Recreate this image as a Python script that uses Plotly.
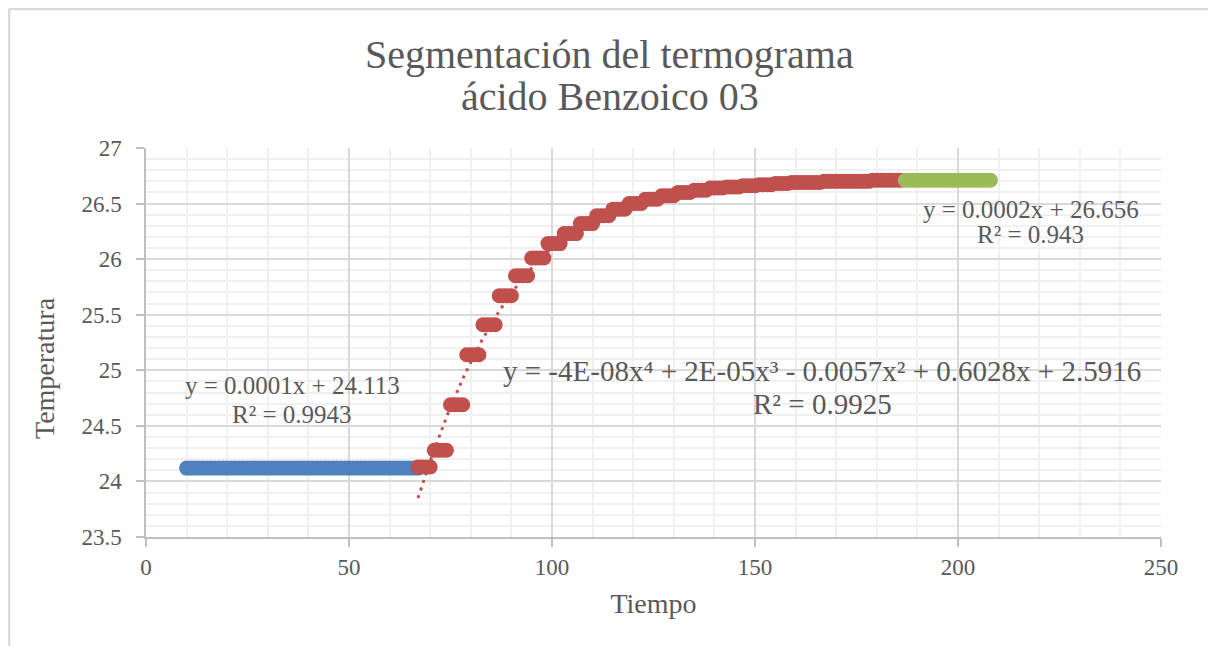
import numpy as np
import plotly.graph_objects as go

# ---- data ----
# blue segment: pre-period, sampled every 1 s
blue_t_start, blue_t_end = 10, 67
blue_temp = 24.12

# red segment: stepped temperature readings (step start time, temperature)
red_step_start = [67, 71, 75, 79, 83, 87, 91, 95, 99, 103, 107, 111, 115, 119, 123,
                  127, 131, 135, 139, 143, 147, 151, 155, 159, 163, 167, 171, 175, 179, 183]
red_step_temp = [24.13, 24.28, 24.69, 25.14, 25.41, 25.67, 25.85, 26.01, 26.14, 26.23,
                 26.32, 26.39, 26.45, 26.50, 26.54, 26.57, 26.60, 26.62, 26.64, 26.65,
                 26.66, 26.67, 26.68, 26.69, 26.69, 26.70, 26.70, 26.70, 26.71, 26.71]
red_t_end = 187

# green segment: post-period
green_t_start, green_t_end = 187, 208
green_temp = 26.71

title_lines = ["Segmentación del termograma", "ácido Benzoico 03"]
x_title = "Tiempo"
y_title = "Temperatura"
eq_blue = ["y = 0.0001x + 24.113", "R² = 0.9943"]
eq_red = ["y = -4E-08x⁴ + 2E-05x³ - 0.0057x² + 0.6028x + 2.5916", "R² = 0.9925"]
eq_green = ["y = 0.0002x + 26.656", "R² = 0.943"]

# ---- build series ----
bx = list(range(blue_t_start, blue_t_end + 1))
by = [blue_temp] * len(bx)

rx, ry = [], []
for i, s in enumerate(red_step_start):
    e = red_step_start[i + 1] if i + 1 < len(red_step_start) else red_t_end
    for t in range(s, e):
        rx.append(t)
        ry.append(red_step_temp[i])

gx = list(range(green_t_start, green_t_end + 1))
gy = [green_temp] * len(gx)

BLUE, RED, GREEN = "#4F81BD", "#C0504D", "#9BBB59"
TXT = "#595959"
FONT = "Liberation Serif"

fig = go.Figure()

# trendlines (computed from the series)
def trend(xs, ys, deg, color):
    c = np.polyfit(xs, ys, deg)
    xt = np.linspace(min(xs), max(xs), 300)
    fig.add_trace(go.Scatter(x=xt, y=np.polyval(c, xt), mode="lines",
                             line=dict(color=color, width=3, dash="3px,5px"),
                             hoverinfo="skip", showlegend=False))

trend(bx, by, 1, BLUE)
trend(rx, ry, 4, RED)
trend(gx, gy, 1, GREEN)

for xs, ys, col in [(bx, by, BLUE), (rx, ry, RED), (gx, gy, GREEN)]:
    fig.add_trace(go.Scatter(x=xs, y=ys, mode="markers",
                             marker=dict(size=15, color=col, line=dict(width=0)),
                             showlegend=False))

axis_common = dict(
    showline=True, linecolor="#BFBFBF", linewidth=1.5,
    ticks="outside", ticklen=8, tickcolor="#BFBFBF", tickwidth=1.5,
    gridcolor="#D9D9D9", gridwidth=1.5,
    tickfont=dict(family=FONT, size=23, color=TXT),
    zeroline=False,
)

fig.update_xaxes(range=[0, 250], dtick=50, tick0=0, ticklabelstandoff=1,
                 minor=dict(dtick=10, showgrid=True, gridcolor="#F0F0F0", gridwidth=1.5, ticks=""),
                 title=dict(text=x_title, font=dict(family=FONT, size=28, color=TXT), standoff=14),
                 **axis_common)
fig.update_yaxes(range=[23.5, 27], dtick=0.5, tick0=23.5, ticklabelstandoff=10,
                 minor=dict(dtick=0.1, showgrid=True, gridcolor="#F0F0F0", gridwidth=1.5, ticks=""),
                 **axis_common)

# plot area in page pixels: x 146..1161, y 148..537
def px(xp):
    return (xp - 146) / 1015
def py(yp):
    return (537 - yp) / 389

# y axis title
fig.add_annotation(xref="paper", yref="paper", x=px(44), y=py(368), text=y_title,
                   textangle=-90, showarrow=False, xanchor="center", yanchor="middle",
                   font=dict(family=FONT, size=28, color=TXT))

# trendline labels
def eq(lines, x, ys, size):
    for t, y in zip(lines, ys):
        fig.add_annotation(x=x, y=y, text=t, showarrow=False, xanchor="center", yanchor="middle",
                           font=dict(family=FONT, size=size, color=TXT))

eq(eq_blue, 35.96, [24.863, 24.602], 25)
eq(eq_red, 166.6, [24.994, 24.697], 29)
eq(eq_green, 217.9, [26.447, 26.222], 25)

# title
for t, yp in zip(title_lines, [54, 96]):
    fig.add_annotation(xref="paper", yref="paper", x=px(609.5), y=py(yp), text=t,
                       showarrow=False, xanchor="center", yanchor="middle",
                       font=dict(family=FONT, size=40, color=TXT))

# chart frame (page px; figure starts at page (8, 8))
FRAME = dict(color="#D9D9D9", width=2.5)
for x0, y0, x1, y1 in [(9, 9, 1210, 9), (9, 9, 9, 650), (1210, 9, 1210, 650)]:
    fig.add_shape(type="line", xref="paper", yref="paper",
                  x0=px(x0), y0=py(y0), x1=px(x1), y1=py(y1), line=FRAME)

fig.update_layout(
    width=1208, height=638,
    margin=dict(l=138, r=55, t=140, b=109),
    paper_bgcolor="white", plot_bgcolor="white",
    showlegend=False,
)

fig.write_html("out.html")
